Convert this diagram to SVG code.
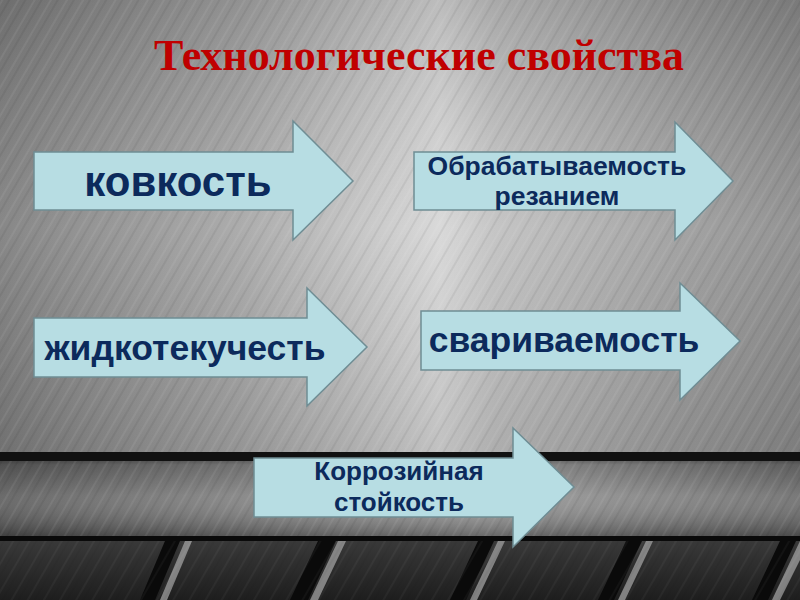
<svg xmlns="http://www.w3.org/2000/svg" width="800" height="600" viewBox="0 0 800 600">
<defs>
<linearGradient id="metal" x1="0" y1="0" x2="1" y2="0">
<stop offset="0" stop-color="#7d7d7d"/>
<stop offset="0.3" stop-color="#a5a5a5"/>
<stop offset="0.55" stop-color="#d6d6d6"/>
<stop offset="0.62" stop-color="#c0c0c0"/>
<stop offset="0.85" stop-color="#9c9c9c"/>
<stop offset="1" stop-color="#8a8a8a"/>
</linearGradient>
<linearGradient id="shade" x1="0" y1="0" x2="0" y2="1">
<stop offset="0" stop-color="#000" stop-opacity="0.12"/>
<stop offset="0.5" stop-color="#fff" stop-opacity="0.08"/>
<stop offset="1" stop-color="#000" stop-opacity="0.1"/>
</linearGradient>
<linearGradient id="band" x1="0" y1="0" x2="1" y2="0">
<stop offset="0" stop-color="#5a5a5a"/>
<stop offset="0.4" stop-color="#8a8a8a"/>
<stop offset="0.6" stop-color="#9a9a9a"/>
<stop offset="1" stop-color="#6a6a6a"/>
</linearGradient>
<linearGradient id="bandv" x1="0" y1="0" x2="0" y2="1">
<stop offset="0" stop-color="#000" stop-opacity="0.6"/>
<stop offset="0.15" stop-color="#000" stop-opacity="0.1"/>
<stop offset="0.5" stop-color="#fff" stop-opacity="0.1"/>
<stop offset="1" stop-color="#000" stop-opacity="0.35"/>
</linearGradient>
<linearGradient id="floor" x1="0" y1="0" x2="0" y2="1">
<stop offset="0" stop-color="#3a3a3a"/>
<stop offset="1" stop-color="#1e1e1e"/>
</linearGradient>
<pattern id="streaks" width="14" height="14" patternUnits="userSpaceOnUse" patternTransform="rotate(-60)">
<rect width="14" height="14" fill="none"/>
<line x1="0" y1="2" x2="14" y2="2" stroke="#fff" stroke-opacity="0.12" stroke-width="1"/>
<line x1="0" y1="8" x2="14" y2="8" stroke="#000" stroke-opacity="0.08" stroke-width="1.5"/>
</pattern>
<style>
.arrow{fill:#b7dde3;stroke:#6f8d94;stroke-width:1.5}
.lbl{font-family:"Liberation Sans",Arial,sans-serif;font-weight:bold;fill:#0c2a5c;text-anchor:middle}
.title{font-family:"Liberation Serif","Times New Roman",serif;font-weight:bold;fill:#c00000;font-size:44px;text-anchor:middle}
</style>
</defs>
<g id="background">
<rect x="0" y="0" width="800" height="600" fill="url(#metal)"/>
<rect x="0" y="0" width="800" height="455" fill="url(#shade)"/>
<rect x="0" y="0" width="800" height="455" fill="url(#streaks)"/>
<rect x="0" y="452" width="800" height="86" fill="url(#band)"/>
<rect x="0" y="452" width="800" height="86" fill="url(#bandv)"/>
<rect x="0" y="452" width="800" height="86" fill="url(#streaks)"/>
<rect x="0" y="452" width="800" height="9" fill="#111"/>
<rect x="0" y="538" width="800" height="62" fill="url(#floor)"/>
<rect x="0" y="536" width="800" height="5" fill="#0a0a0a"/>
<g fill="#0a0a0a">
<polygon points="140,600 165,541 180,541 155,600"/>
<polygon points="290,600 318,541 336,541 308,600"/>
<polygon points="450,600 478,541 494,541 466,600"/>
<polygon points="598,600 626,541 642,541 614,600"/>
<polygon points="752,600 780,541 796,541 768,600"/>
</g>
<g fill="#9a9a9a" opacity="0.8">
<polygon points="160,600 185,541 192,541 167,600"/>
<polygon points="310,600 338,541 346,541 318,600"/>
<polygon points="470,600 498,541 505,541 477,600"/>
<polygon points="618,600 646,541 653,541 625,600"/>
<polygon points="772,600 800,541 800,560 780,600"/>
</g>
<rect x="0" y="541" width="800" height="59" fill="url(#streaks)" opacity="0.6"/>
</g>
<text class="title" x="419" y="70">Технологические свойства</text>
<g id="n1">
<polygon class="arrow" points="34,152 293,152 293,121 353,181 293,240 293,210 34,210"/>
<text class="lbl" x="178" y="196" font-size="42">ковкость</text>
</g>
<g id="n2">
<polygon class="arrow" points="414,152 675,152 675,122 733,181 675,240 675,210 414,210"/>
<text class="lbl" x="557" y="175" font-size="26.5">Обрабатываемость</text>
<text class="lbl" x="557" y="205" font-size="26.5">резанием</text>
</g>
<g id="n3">
<polygon class="arrow" points="34,318 307,318 307,288 367,347 307,406 307,377 34,377"/>
<text class="lbl" x="185" y="360" font-size="35.5">жидкотекучесть</text>
</g>
<g id="n4">
<polygon class="arrow" points="421,311 680,311 680,283 740,341 680,400 680,370 421,370"/>
<text class="lbl" x="564" y="352" font-size="35.5">свариваемость</text>
</g>
<g id="n5">
<polygon class="arrow" points="254,458 513,458 513,428 574,487 513,547 513,517 254,517"/>
<text class="lbl" x="399" y="480" font-size="26">Коррозийная</text>
<text class="lbl" x="399" y="511" font-size="26">стойкость</text>
</g>
<g id="connectors"/>
</svg>
